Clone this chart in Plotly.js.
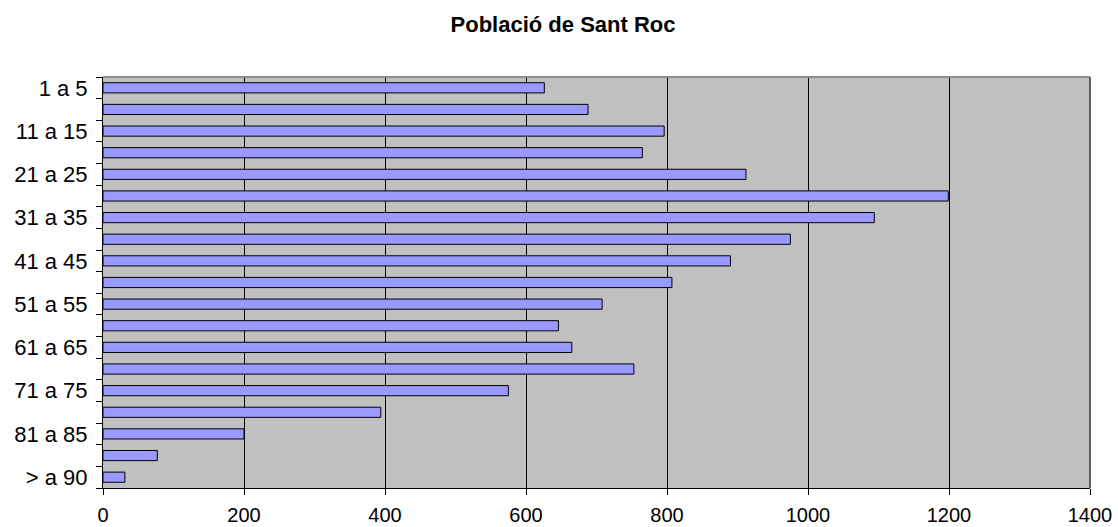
<!DOCTYPE html>
<html>
<head>
<meta charset="utf-8">
<script src="https://cdn.plot.ly/plotly-3.0.1.min.js"></script>
<style>html,body{margin:0;padding:0;background:#fff;}#chart{width:1118px;height:527px;}</style>
</head>
<body>
<div id="chart"></div>
<script>
const categories = ["1 a 5","6 a 10","11 a 15","16 a 20","21 a 25","26 a 30","31 a 35","36 a 40","41 a 45","46 a 50","51 a 55","56 a 60","61 a 65","66 a 70","71 a 75","76 a 80","81 a 85","86 a 90","> a 90"];
const population = [626, 688, 796, 765, 912, 1199, 1094, 975, 890, 807, 708, 646, 665, 753, 575, 394, 200, 77, 31];
const xTicks = [0, 200, 400, 600, 800, 1000, 1200, 1400];
const chartTitle = "Població de Sant Roc";

const tickText = categories.map((c, i) => (i % 2 === 0 ? c : ""));

const trace = {
  type: "bar",
  orientation: "h",
  y: categories,
  x: population,
  marker: { color: "#9999ff", line: { color: "#000000", width: 1 } },
  width: 0.47,
  hoverinfo: "x+y"
};

const layout = {
  width: 1118,
  height: 527,
  margin: { l: 103, r: 28, t: 77, b: 39, pad: 0 },
  paper_bgcolor: "#ffffff",
  plot_bgcolor: "#c0c0c0",
  font: { family: "Liberation Sans, Arial, sans-serif", size: 22, color: "#000000" },
  title: {
    text: "<b>" + chartTitle + "</b>",
    font: { family: "Liberation Sans, Arial, sans-serif", size: 22, color: "#000000" },
    x: 0.5036, xanchor: "center", xref: "container",
    y: 0.953, yanchor: "middle", yref: "container"
  },
  showlegend: false,
  xaxis: {
    range: [0, 1400],
    tickvals: xTicks,
    ticktext: xTicks.map(String),
    showgrid: true,
    gridcolor: "#000000",
    gridwidth: 1,
    zeroline: false,
    showline: true,
    linecolor: "#000000",
    linewidth: 1,
    ticks: "outside",
    ticklen: 6,
    tickcolor: "#000000",
    ticklabelstandoff: 3,
    tickfont: { size: 20 },
    fixedrange: true,
    automargin: false
  },
  yaxis: {
    type: "category",
    categoryorder: "array",
    categoryarray: categories,
    autorange: "reversed",
    tickvals: categories,
    ticktext: tickText,
    tickson: "boundaries",
    ticks: "outside",
    ticklen: 6,
    tickcolor: "#000000",
    showgrid: false,
    showline: true,
    linecolor: "#000000",
    linewidth: 1,
    ticklabelstandoff: 10,
    tickfont: { size: 22 },
    fixedrange: true,
    automargin: false
  },
  bargap: 0.53,
  shapes: [
    { type: "line", xref: "paper", yref: "paper", x0: 0, x1: 1, y0: 1, y1: 1,
      line: { color: "#8c8c8c", width: 2 }, layer: "above" },
    { type: "line", xref: "paper", yref: "paper", x0: 1, x1: 1, y0: 0, y1: 1,
      line: { color: "#606060", width: 2 }, layer: "above" }
  ]
};

Plotly.newPlot("chart", [trace], layout, { displayModeBar: false, staticPlot: true });
</script>
</body>
</html>
